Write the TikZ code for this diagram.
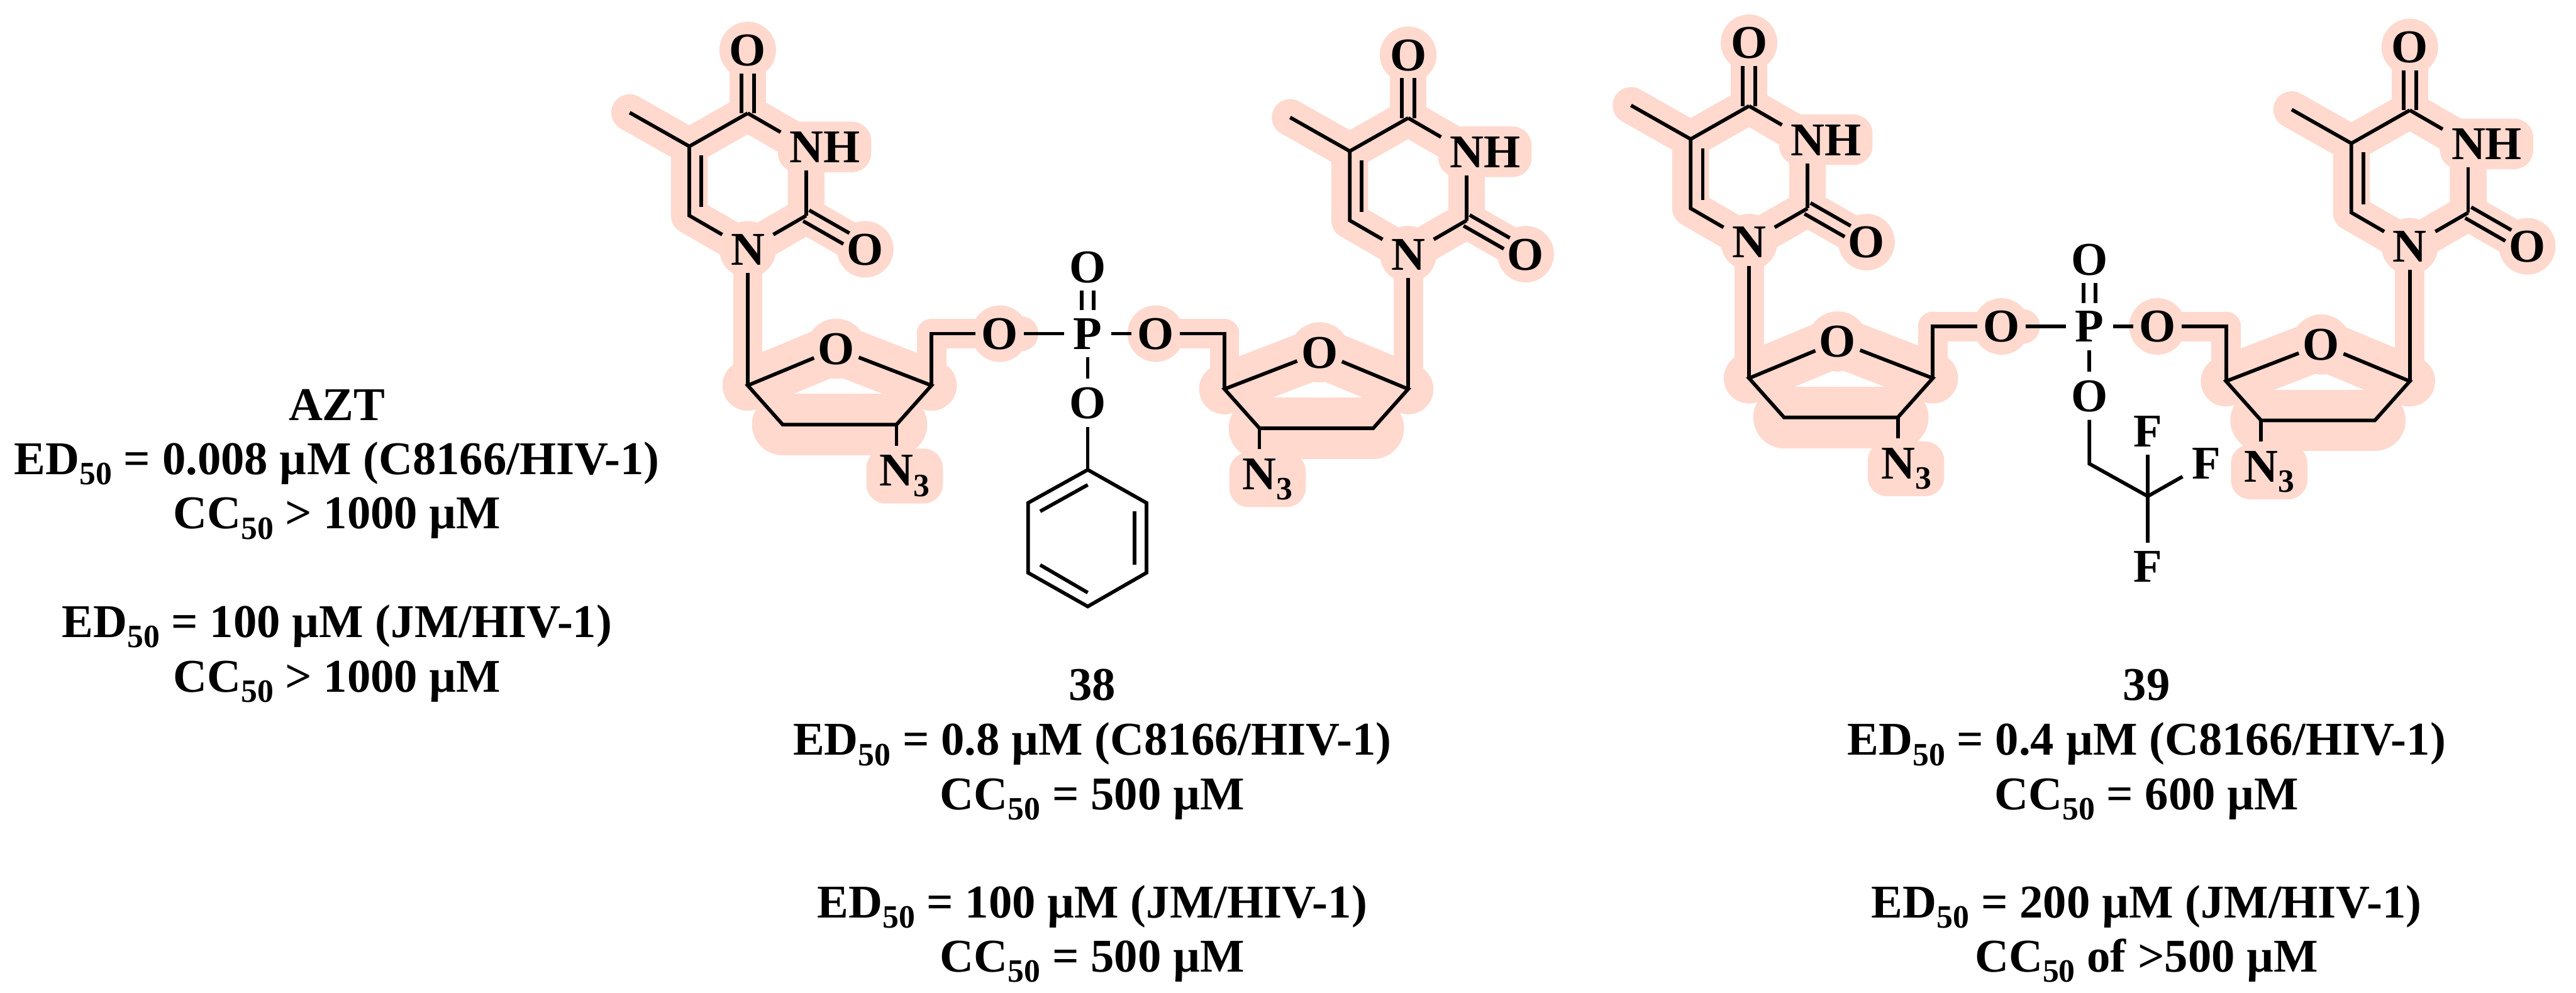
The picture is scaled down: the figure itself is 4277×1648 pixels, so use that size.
\documentclass[tikz,border=0pt]{standalone}
\usepackage{fontspec}
\setmainfont{Liberation Serif}
\usetikzlibrary{calc}
\definecolor{hl}{HTML}{FFD9CE}
\pgfdeclarelayer{bg}
\pgfsetlayers{bg,main}
\newcommand{\lowd}[1]{\raisebox{-17pt}{\fontsize{54}{54}\selectfont\bfseries #1}}
\tikzset{x=1pt,y=-1pt,
 bond/.style={line width=6pt,line cap=butt,line join=miter},
 atom/.style={circle,inner sep=0pt,minimum size=78pt,font=\fontsize{78}{78}\selectfont\bfseries,text height=52pt,text depth=0pt},
 wideatom/.style={inner sep=0pt,font=\fontsize{78}{78}\selectfont\bfseries,anchor=base west},
 lab/.style={inner sep=0pt,font=\fontsize{78}{78}\selectfont\bfseries,anchor=base},
 hA/.style={draw=hl,line width=61pt,line cap=round,line join=round},
 hB/.style={draw=hl,line width=49pt,line cap=butt,line join=round},
 hC/.style={draw=hl,line width=84pt,line cap=butt,line join=round},
 hD/.style={draw=hl,line width=102pt,line cap=round}}
% #1 prefix, #2 x of N1, #3 y of N1, #4 sugar direction, #5 dy of C1' below N1, #6 name of the 5'-O node
\newcommand{\unit}[6]{%
 \begin{scope}[shift={(#2,#3)}]
 \coordinate (#1C4) at (0,-226);
 \coordinate (#1Me) at (-196,-227);
 \coordinate (#1C5) at (-97,-171);
 \coordinate (#1C6) at (-97,-56);
 \coordinate (#1C2) at (97,-56);
 \coordinate (#1Nc) at (97,-170);
 \coordinate (#1Ca) at (0,#5);
 \coordinate (#1Cd) at ({#4*305},#5);
 \coordinate (#1Cc) at ({#4*247},{#5+65});
 \coordinate (#1Cb) at ({#4*58},{#5+65});
 \coordinate (#1Zc) at ({#4*247},{#5+145});
 \coordinate (#1Ce) at (#1Cd |- #6);
 \node[atom] (#1Ot) at (0,-331) {O};
 \node[atom] (#1N1) at (0,0) {N};
 \node[atom] (#1O2) at (195,0) {O};
 \node[wideatom] (#1NH) at (69,-144) {NH};
 \node[atom] (#1Of) at ({#4*147},{#5-61}) {O};
 \node[wideatom] (#1Nz) at ({#4*247-28},{#5+167}) {N\lowd{3}};
 \begin{pgfonlayer}{bg}
 \draw[hA] (#1Me)--(#1C5)--(#1C6)--(#1N1.center)--(#1C2)--(#1Nc)--(#1C4)--(#1C5);
 \draw[hA] (#1C4)--(#1Ot.center);
 \draw[hA] (#1C2)--(#1O2.center);
 \fill[hl] (#1Ot) circle (47);
 \fill[hl] (#1O2) circle (47);
 \fill[hl] (#1N1) circle (47);
 \fill[hl,rounded corners=32pt] (50,-212) rectangle (205,-128);
 \draw[hB] (#1N1.center)--(#1Ca);
 \draw[hC] (#1Ca)--(#1Of.center)--(#1Cd);
 \fill[hl] (#1Of) circle (50);
 \fill[hl] (#1Ca) circle (42);
 \fill[hl] (#1Cd) circle (42);
 \draw[hD] (#1Cb)--(#1Cc);
 \draw[hB] (#1Cd)--(#1Ce)--(#6.center);
 \fill[hl] (#1Ce) circle (24.5);
 \fill[hl] (#6) circle (47);
 \fill[hl,rounded corners=32pt] ({#4*247-50},{#5+105}) rectangle ({#4*247+77},{#5+196});
 \end{pgfonlayer}
 \draw[bond] (#1Me)--(#1C5)--(#1C4);
 \draw[bond,shorten <=49pt] (#1N1.center)--(#1C6)--(#1C5);
 \draw[bond,shorten <=49pt] (#1N1.center)--(#1C2);
 \draw[bond,shorten >=39pt] (#1C2)--(#1Nc);
 \draw[bond,shorten >=49pt] (#1C4)--(#1Nc);
 \draw[bond] ([xshift=20pt,yshift=-15pt]#1C5)--([xshift=20pt,yshift=14pt]#1C6);
 \draw[bond,shorten >=39pt] ([xshift=-10.5pt]#1C4)--([xshift=-10.5pt]#1Ot.center);
 \draw[bond,shorten >=39pt] ([xshift=10.5pt]#1C4)--([xshift=10.5pt]#1Ot.center);
 \draw[bond,shorten >=36pt] ([shift={(5,-9)}]#1C2)--([shift={(5,-9)}]#1O2.center);
 \draw[bond,shorten >=36pt] ([shift={(-5,9)}]#1C2)--([shift={(-5,9)}]#1O2.center);
 \draw[bond] (#1N1)--(#1Ca);
 \draw[bond] (#1Of)--(#1Ca)--(#1Cb)--(#1Cc)--(#1Cd)--(#1Of);
 \draw[bond] (#1Cd)--(#1Ce)--(#6);
 \draw[bond,shorten >=45pt] (#1Cc)--(#1Zc);
 \end{scope}}
% phosphate: #1 prefix, #2 x, #3 y of P
\newcommand{\phos}[3]{%
 \node[atom] (#1P) at (#2,#3) {P};
 \node[atom] (#1Ou) at (#2,{#3-111}) {O};
 \node[atom] (#1Od) at (#2,{#3+115}) {O};
 \node[atom] (#1Ol) at ({#2-146},#3) {O};
 \node[atom] (#1Or) at ({#2+113},#3) {O};
 \draw[bond] (#1Ol)--(#1P);
 \draw[bond] (#1P)--(#1Or);
 \draw[bond] (#1P)--(#1Od);
 \draw[bond,shorten <=39pt,shorten >=39pt] ([xshift=-10pt]#1P.center)--([xshift=-10pt]#1Ou.center);
 \draw[bond,shorten <=39pt,shorten >=39pt] ([xshift=10pt]#1P.center)--([xshift=10pt]#1Ou.center);
 \begin{pgfonlayer}{bg}
 \fill[hl] ([xshift=35pt]#1Ol.center) circle (29);
 \end{pgfonlayer}}
\begin{document}
\begin{tikzpicture}
\useasboundingbox (0,0) rectangle (4277,1648);
\phos{p}{1806}{554}
\phos{q}{3469}{542}
\unit{a}{1241.5}{414}{1}{226}{pOl}
\unit{b}{2338}{422}{-1}{224}{pOr}
\unit{c}{2904}{402}{1}{226}{qOl}
\unit{d}{4001}{409}{-1}{224}{qOr}
% phenyl of 38
\coordinate (ph1) at (1806,780);
\coordinate (ph2) at (1903.5,835);
\coordinate (ph3) at (1903.5,951);
\coordinate (ph4) at (1806,1007);
\coordinate (ph5) at (1707,951);
\coordinate (ph6) at (1707,835);
\draw[bond] (pOd)--(ph1);
\draw[bond] (ph1)--(ph2)--(ph3)--(ph4)--(ph5)--(ph6)--cycle;
\draw[bond] ($(ph6)+(20,14)$)--($(ph1)+(0,25)$);
\draw[bond] ($(ph2)+(-20,14)$)--($(ph3)+(-20,-13)$);
\draw[bond] ($(ph5)+(20,-13)$)--($(ph4)+(0,-23)$);
% CH2CF3 of 39
\coordinate (cm) at (3469,770);
\coordinate (cf) at (3566,824);
\node[atom] (f1) at (3566,716) {F};
\node[atom] (f2) at (3663,769) {F};
\node[atom] (f3) at (3566,940) {F};
\draw[bond] (qOd)--(cm)--(cf);
\draw[bond] (cf)--(f1);
\draw[bond,shorten >=6pt] (cf)--(f2);
\draw[bond] (cf)--(f3);
% captions
\node[lab] (t1) at (559.5,698) {AZT};
\node[lab] (t2) at (559.5,787.5) {ED\lowd{50} = 0.008 µM (C8166/HIV-1)};
\node[lab] (t3) at (559.5,878) {CC\lowd{50} > 1000 µM};
\node[lab] (t4) at (559.5,1058) {ED\lowd{50} = 100 µM (JM/HIV-1)};
\node[lab] (t5) at (559.5,1149) {CC\lowd{50} > 1000 µM};
\node[lab] (u1) at (1813.5,1163) {38};
\node[lab] (u2) at (1813.5,1254) {ED\lowd{50} = 0.8 µM (C8166/HIV-1)};
\node[lab] (u3) at (1813.5,1344.5) {CC\lowd{50} = 500 µM};
\node[lab] (u4) at (1813.5,1523.5) {ED\lowd{50} = 100 µM (JM/HIV-1)};
\node[lab] (u5) at (1813.5,1614) {CC\lowd{50} = 500 µM};
\node[lab] (v1) at (3564,1163) {39};
\node[lab] (v2) at (3564,1254) {ED\lowd{50} = 0.4 µM (C8166/HIV-1)};
\node[lab] (v3) at (3564,1344.5) {CC\lowd{50} = 600 µM};
\node[lab] (v4) at (3564,1523.5) {ED\lowd{50} = 200 µM (JM/HIV-1)};
\node[lab] (v5) at (3564,1614) {CC\lowd{50} of >500 µM};
\end{tikzpicture}
\end{document}
